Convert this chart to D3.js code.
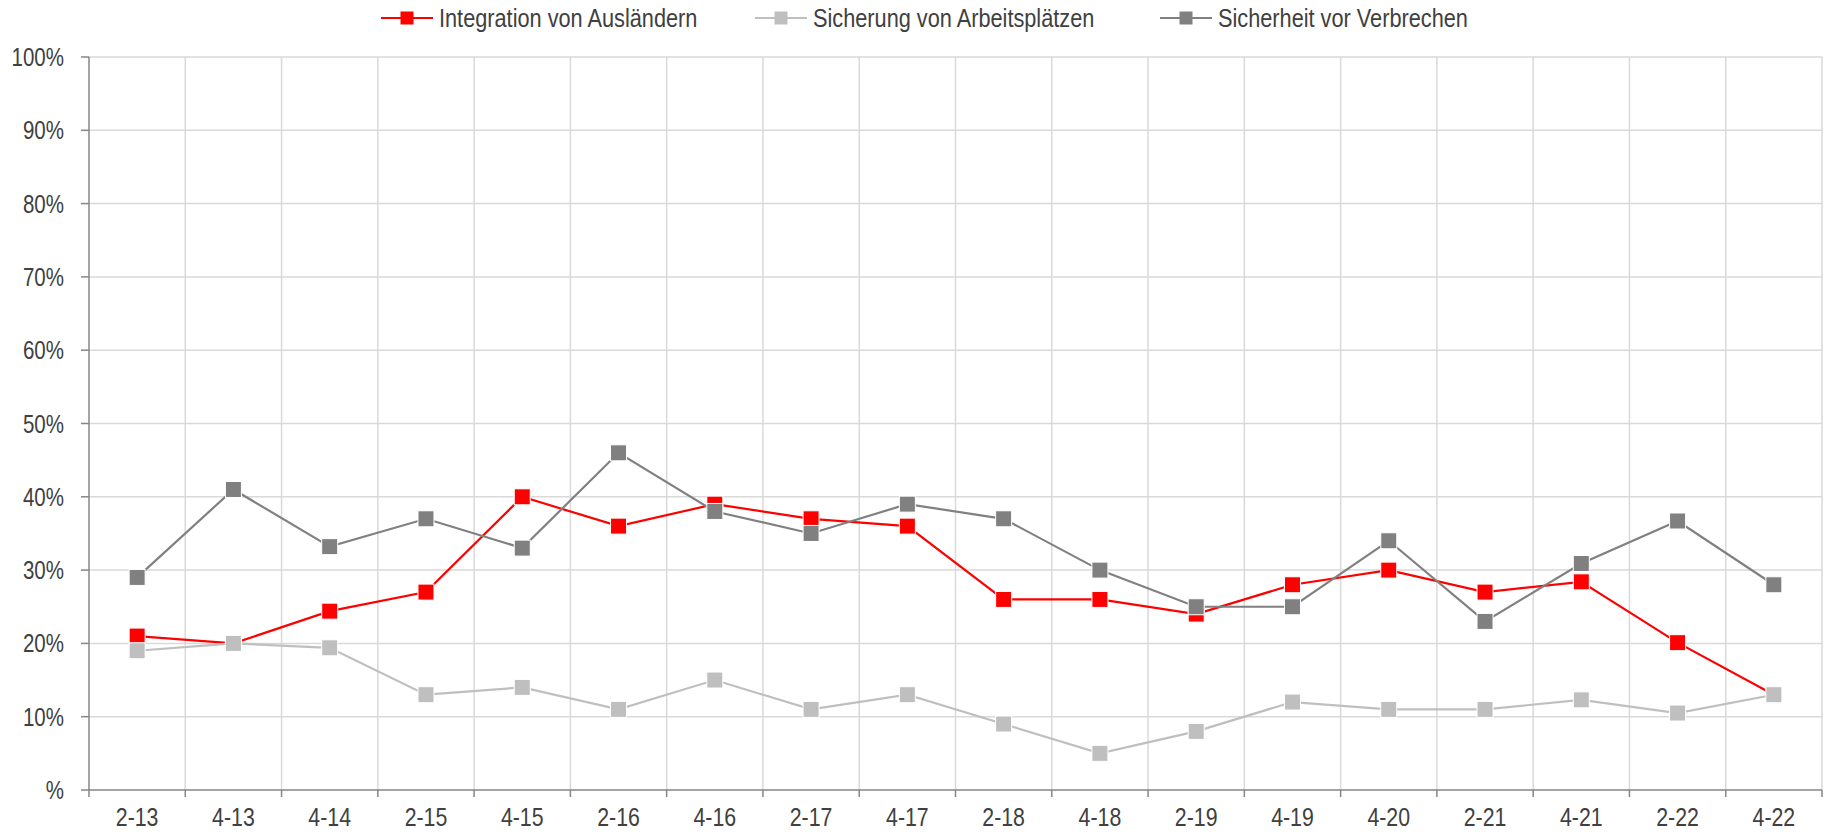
<!DOCTYPE html>
<html>
<head>
<meta charset="utf-8">
<script src="https://cdn.jsdelivr.net/npm/d3@7"></script>
<style>
  body { margin: 0; background: #fff; }
  svg { display: block; }
  text { font-family: "Liberation Sans", Arial, sans-serif; fill: #404040; }
</style>
</head>
<body>
<svg id="chart"></svg>
<script>
const categories = ["2-13", "4-13", "4-14", "2-15", "4-15", "2-16", "4-16", "2-17", "4-17",
  "2-18", "4-18", "2-19", "4-19", "4-20", "2-21", "4-21", "2-22", "4-22"];

const integration = [21, 20, 24.4, 27, 40, 36, 39, 37, 36, 26, 26, 24, 28, 30, 27, 28.4, 20.1, 13];
const arbeitsplaetze = [19, 20, 19.4, 13, 14, 11, 15, 11, 13, 9, 5, 8, 12, 11, 11, 12.3, 10.5, 13];
const verbrechen = [29, 41, 33.2, 37, 33, 46, 38, 35, 39, 37, 30, 25, 25, 34, 23, 30.9, 36.7, 28];

const yTicks = [0, 10, 20, 30, 40, 50, 60, 70, 80, 90, 100];
const yTickLabels = ["%", "10%", "20%", "30%", "40%", "50%", "60%", "70%", "80%", "90%", "100%"];

const series = [
  { name: "Integration von Ausländern", values: integration, color: "#ff0000" },
  { name: "Sicherung von Arbeitsplätzen", values: arbeitsplaetze, color: "#bfbfbf" },
  { name: "Sicherheit vor Verbrechen", values: verbrechen, color: "#808080" }
];

const width = 1832, height = 835;
const margin = { top: 57, right: 10, bottom: 45, left: 89 };
const narrow = 0.82; // horizontal squeeze to mimic Arial Narrow

const svg = d3.select("#chart").attr("width", width).attr("height", height);

const x = d3.scaleBand().domain(categories).range([margin.left, width - margin.right]).padding(0);
const y = d3.scaleLinear().domain([0, 100]).range([height - margin.bottom, margin.top]);
const xEdges = categories.slice(1).map(d => x(d)).concat([width - margin.right]);

// gridlines
svg.append("g")
  .selectAll("line")
  .data(yTicks.filter(d => d > 0))
  .join("line")
  .attr("x1", margin.left).attr("x2", width - margin.right)
  .attr("y1", d => y(d)).attr("y2", d => y(d))
  .attr("stroke", "#d9d9d9").attr("stroke-width", 1.5);

svg.append("g")
  .selectAll("line")
  .data(xEdges)
  .join("line")
  .attr("x1", d => d).attr("x2", d => d)
  .attr("y1", y(100)).attr("y2", y(0))
  .attr("stroke", "#d9d9d9").attr("stroke-width", 1.5);

// y axis
const yAxis = svg.append("g");
yAxis.append("line")
  .attr("x1", margin.left).attr("x2", margin.left)
  .attr("y1", y(100)).attr("y2", y(0))
  .attr("stroke", "#868686").attr("stroke-width", 1.5);
yAxis.selectAll("line.tick")
  .data(yTicks)
  .join("line")
  .attr("class", "tick")
  .attr("x1", margin.left - 8).attr("x2", margin.left)
  .attr("y1", d => y(d)).attr("y2", d => y(d))
  .attr("stroke", "#868686").attr("stroke-width", 1.5);
yAxis.selectAll("text")
  .data(yTicks)
  .join("text")
  .attr("transform", d => `translate(64,${y(d) + 9}) scale(${narrow},1)`)
  .attr("text-anchor", "end")
  .style("font-size", "25px")
  .text((d, i) => yTickLabels[i]);

// x axis
const xAxis = svg.append("g");
xAxis.append("line")
  .attr("x1", margin.left).attr("x2", width - margin.right)
  .attr("y1", y(0)).attr("y2", y(0))
  .attr("stroke", "#868686").attr("stroke-width", 1.5);
xAxis.selectAll("line.tick")
  .data([margin.left].concat(xEdges))
  .join("line")
  .attr("class", "tick")
  .attr("x1", d => d).attr("x2", d => d)
  .attr("y1", y(0)).attr("y2", y(0) + 7)
  .attr("stroke", "#868686").attr("stroke-width", 1.5);
xAxis.selectAll("text")
  .data(categories)
  .join("text")
  .attr("transform", d => `translate(${x(d) + x.bandwidth() / 2},${y(0) + 36}) scale(${narrow},1)`)
  .attr("text-anchor", "middle")
  .style("font-size", "26px")
  .text(d => d);

// series
const line = d3.line()
  .x((d, i) => x(categories[i]) + x.bandwidth() / 2)
  .y(d => y(d));

const ms = 16;
series.forEach(s => {
  const g = svg.append("g");
  g.append("path")
    .datum(s.values)
    .attr("d", line)
    .attr("fill", "none")
    .attr("stroke", s.color)
    .attr("stroke-width", 2.2);
  g.selectAll("rect")
    .data(s.values)
    .join("rect")
    .attr("x", (d, i) => x(categories[i]) + x.bandwidth() / 2 - ms / 2)
    .attr("y", d => y(d) - ms / 2)
    .attr("width", ms).attr("height", ms)
    .attr("fill", s.color)
    .attr("stroke", "#fff").attr("stroke-width", 1);
});

// legend
const legendX = [407, 781, 1186];
const legend = svg.append("g");
series.forEach((s, i) => {
  const cx = legendX[i], cy = 18;
  legend.append("line")
    .attr("x1", cx - 26).attr("x2", cx + 26)
    .attr("y1", cy).attr("y2", cy)
    .attr("stroke", s.color).attr("stroke-width", 2.2);
  legend.append("rect")
    .attr("x", cx - 6.5).attr("y", cy - 6.5)
    .attr("width", 13).attr("height", 13)
    .attr("fill", s.color);
  legend.append("text")
    .attr("transform", `translate(${cx + 32},27) scale(${narrow},1)`)
    .style("font-size", "26.5px")
    .text(s.name);
});
</script>
</body>
</html>
